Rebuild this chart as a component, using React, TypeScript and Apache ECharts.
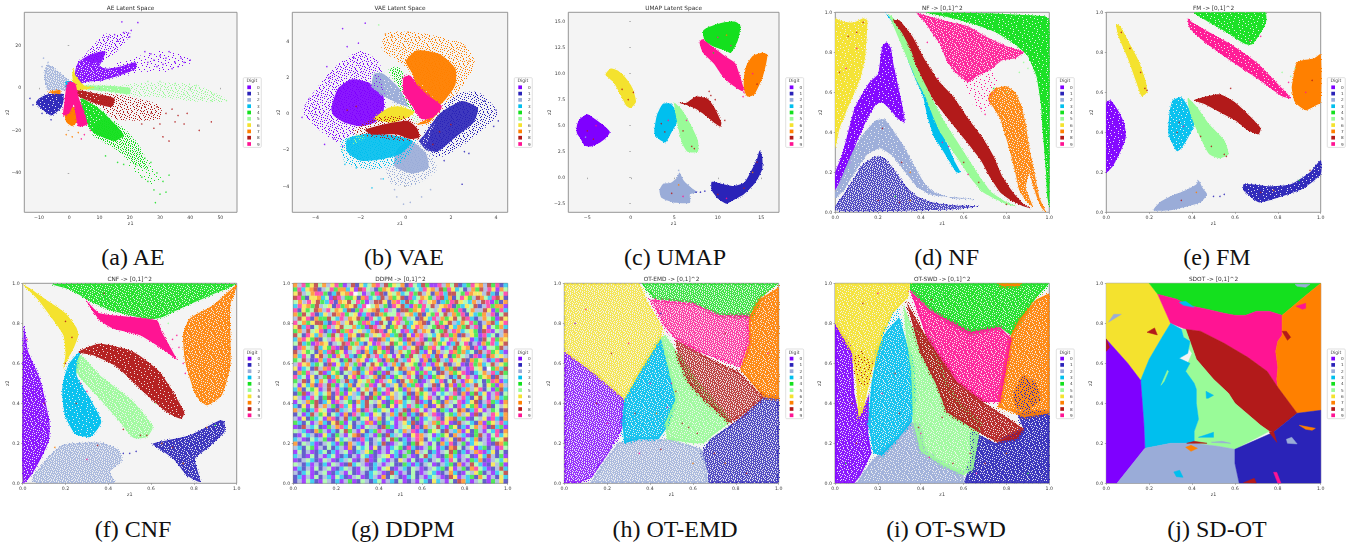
import React, { useEffect, useRef } from "react";
import * as echarts from "echarts";

type P = [number, number];
type Shape = [number, number, P[]]; // digit, density class (0 sparse .. 6 solid), outline in data units
type Pt = [number, number, number]; // x, y, digit

const digits = ["0", "1", "2", "3", "4", "5", "6", "7", "8", "9"];
const palette = ["#7f00ff", "#2a23b8", "#9aacd8", "#00bfee", "#14e01e", "#99fb98", "#f4e22e", "#ff8000", "#b21a1a", "#ff1493"];
const unitTicks = [0, 0.2, 0.4, 0.6, 0.8, 1];

const aeShapes: Shape[] = [
  [0, 4, [[1.5, 2], [2, 8], [3, 12], [6, 15], [10, 17], [12, 17], [11, 13], [10, 10], [13, 9], [17, 10], [22, 12], [22, 9], [17, 6], [11, 3.5], [6, 3], [3, 1.5]]],
  [0, 1, [[5, 14], [9, 21], [12, 25], [15, 24], [19, 26], [20, 25], [16, 18], [12, 14], [8, 12]]],
  [0, 0, [[14, 10], [22, 14], [30, 17], [40, 14], [40, 12], [32, 8], [24, 8], [18, 6]]],
  [1, 5, [[-10, -5], [-7, -3], [-2, -3], [-2, -7], [-3, -10], [-6, -13], [-9, -10], [-11, -7]]],
  [2, 3, [[-8, 9], [-7, 11], [-4, 8], [0, 3], [-1, -1], [-4, -1], [-7, -1], [-8, 3]]],
  [3, 5, [[-1, 3], [1, 3], [1, 0], [-1, 0]]],
  [4, 5, [[4, -5], [10, -10], [18, -22], [15, -25], [8, -21], [5, -14]]],
  [4, 2, [[12, -14], [20, -22], [24, -30], [26, -38], [22, -36], [15, -28], [8, -22]]],
  [4, 0, [[20, -26], [30, -42], [27, -45], [18, -33]]],
  [5, 5, [[4, 1], [12, 1], [20, 0], [20, -3], [12, -1.5], [5, -0.5]]],
  [5, 1, [[18, 1], [30, 2], [42, 1], [52, -6], [42, -6], [30, -4], [18, -3]]],
  [6, 6, [[1, 6], [1.5, 9], [2, 6], [5, 1], [8, 0], [2, -1]]],
  [7, 6, [[-1.5, -10], [3, -9], [3, -15], [1, -18], [-1, -16]]],
  [7, 5, [[-7, -2], [-3, -1], [-3, -3]]],
  [8, 5, [[2, -1], [10, -3], [15, -5], [14, -9], [8, -7], [3, -4]]],
  [8, 1, [[12, -3], [24, -6], [30, -9], [30, -14], [22, -15], [15, -14], [10, -7]]],
  [9, 6, [[-1, 0], [0, 3], [2, 2], [3, -4], [6, -17], [3, -18], [1.5, -8], [0, -12], [-2, -13], [-1.5, -6]]],
];
const aeScatter: Pt[] = [
  [17.4, 31, 0], [22.7, 30.7, 0], [19.6, 25.7, 0], [20.5, 27, 0], [18, 26, 0], [15, 25, 0], [13, 24, 0], [16, 22, 0], [20, 24, 0],
  [28, 13, 0], [30, 15, 0], [25, 17, 0], [27, 16, 0], [32, 14, 0], [33, 17, 0], [35, 12, 0], [37, 14, 0], [40, 13, 0], [38, 12, 0], [34, 9, 0], [31, 11, 0], [29, 10, 0], [26, 12, 0], [36, 10, 0],
  [45, -2, 5], [48, -3, 5], [52, -6, 5], [50, -5, 5], [44, -5, 5], [40, -1, 5], [35, 2, 5], [30, 3, 5], [26, 3, 5], [38, -3, 5], [47, -6, 5], [42, 1, 5],
  [47, -16, 8], [43, -20, 8], [35, -16, 8], [38, -17, 8], [36, -13, 8], [39, -12, 8], [34, -10, 8], [32, -12, 8], [30, -17, 8], [31, -23, 8], [33, -25, 8], [28, -19, 8], [27, -12, 8], [25, -9, 8], [29, -9, 8], [24, -17, 8],
  [30, -50, 4], [28, -48, 4], [32, -49, 4], [28.5, -54, 4], [33, -41, 4], [31, -44, 4], [26, -44, 4], [24, -42, 4], [29, -40, 4], [27, -35, 4], [25, -33, 4], [22, -36, 4], [18, -36, 4], [16, -35, 4], [12, -32, 4],
  [-8.5, 14, 2], [-7, 12, 2], [-9, 10, 2], [-13, -5, 1], [-12, -8, 1], [-6, -15, 1], [-9, -12, 1], [1, -23, 7], [-1, -22, 7], [3, -21, 7], [4, -24, 9], [5, -22, 9], [7, -20, 9],
];

const vaeShapes: Shape[] = [
  [0, 1, [[-4.5, 0.2], [-3.2, 2.4], [-2, 3.4], [-1.2, 2.7], [-1, 0.2], [-1.8, -1.2], [-3, -1.5], [-4, -0.6]]],
  [0, 4, [[-3.3, 0.3], [-3, 1.4], [-2.4, 1.9], [-1.6, 1.7], [-1, 1], [-1, 0], [-1.4, -0.5], [-2, -0.7], [-2.7, -0.5], [-3.2, -0.1]]],
  [1, 1, [[0.9, -2.1], [2, 0.9], [3.2, 1.1], [4, 0], [2.8, -1.4], [1.6, -2.3]]],
  [1, 4, [[0.8, -1.2], [1.5, 0], [2.5, 0.7], [3.2, 0.3], [3, -0.5], [2.2, -1.3], [1.4, -2.1], [0.9, -2], [0.6, -1.5]]],
  [2, 5, [[-1.4, 2.2], [-1, 2.2], [-0.3, 1.4], [0.1, 0.4], [-0.4, 0.6], [-1, 1], [-1.5, 1.5]]],
  [2, 1, [[-0.8, -2.8], [-0.6, -3.8], [0.3, -3.9], [1.3, -3.1], [1, -2], [0.2, -1.6]]],
  [2, 4, [[-0.4, -2], [0.2, -1.5], [0.9, -2.2], [1, -3], [0.3, -3.3], [-0.5, -2.9]]],
  [3, 1, [[-2.8, -1.5], [-0.5, -1], [0.4, -1.5], [-0.2, -2.6], [-1.4, -3], [-2.6, -2.7]]],
  [3, 4, [[-2.6, -1.4], [-1.7, -1.1], [-0.5, -1.2], [0.3, -1.5], [-0.2, -2.2], [-1, -2.5], [-2, -2.6], [-2.6, -2.1]]],
  [4, 2, [[-0.7, 2.4], [-0.3, 2.5], [0.1, 1.5], [0.6, 0.6], [0.5, -0.1], [0.2, 0.4], [-0.2, 1.3]]],
  [5, 1, [[-2, -0.8], [-1, -0.1], [0.3, 0.2], [0.5, -0.4], [-1, -0.7], [-2.3, -1.6]]],
  [6, 6, [[-1.4, -0.3], [-0.8, 0.3], [-0.3, 0.4], [0.4, 0.1], [0.1, -0.2], [-0.6, -0.5]]],
  [7, 1, [[-1, 3.6], [-0.8, 4.4], [0.5, 4.4], [2.5, 3.8], [3, 2.8], [2.3, 1.3], [1.6, 0.6], [0.2, 2.5]]],
  [7, 5, [[0.6, 0.9], [0.3, 2.2], [0, 2.9], [0.5, 3.5], [1.5, 3.3], [2.2, 2.5], [2.2, 1.6], [1.7, 0.7], [1.2, 0.2], [0.8, 0.4]]],
  [7, 5, [[0.5, -0.6], [1.1, -0.2], [1.6, 0.3], [1, -0.5]]],
  [8, 1, [[-2.3, -1], [-1.3, -0.3], [0.2, -0.3], [0.3, -1.4], [-1, -1.3]]],
  [8, 6, [[-1.8, -0.9], [-1, -0.6], [0.1, -0.4], [0.5, -0.8], [0.6, -1.3], [0.2, -1.4], [-0.4, -1.15], [-1.5, -1.15]]],
  [9, 6, [[-0.1, 2], [-0.1, 1.2], [0.3, 0.4], [0.7, -0.3], [1.2, -0.2], [1.6, 0.4], [1, 1], [0.5, 1.6], [0.2, 2.1]]],
];
const vaeScatter: Pt[] = [
  [-1.8, 5, 0], [-2.8, 4.7, 0], [-2.6, 3.7, 0], [-2.1, 3.9, 0], [-2.3, 3.1, 0], [-3.5, 2.6, 0], [-4.6, -0.2, 0], [-4.3, 0.8, 0], [-4, 0.3, 0], [-3.9, 1, 0], [-3.4, 2, 0], [-3.6, -1.7, 0], [-3.2, -1.4, 0], [-2.8, -1.8, 0],
  [-0.1, -5, 2], [-0.4, -4.6, 2], [0.2, -4.9, 2], [0.7, -4.6, 2], [1.1, -4.2, 2], [-0.5, -4.2, 2], [-1.1, -3.6, 2], [-1.5, -4.1, 3], [-1, -3.6, 3], [-2.2, -3, 3], [-2.7, -2.8, 3],
  [-0.9, 4.4, 7], [-0.6, 4.3, 7], [0.1, 4.5, 7], [0.6, 4.2, 7], [2.6, 3.7, 7], [2.8, 2.9, 7], [2.5, -3.9, 1], [4, 0.2, 1], [4.1, -0.4, 1], [3.9, -0.7, 1], [3.5, 0.7, 1], [2.8, -2.2, 1], [2.6, -2.1, 1], [1.7, -2.6, 1],
  [-2.5, -1.4, 5], [-2.8, -2, 5], [-1.2, 4.9, 5], [1.5, -1, 8], [2, -0.6, 8], [1.2, -1.7, 8], [-2.2, 0.4, 8], [-2.6, 0.2, 8],
];

const umapShapes: Shape[] = [
  [0, 6, [[-6.2, 5], [-5.9, 5.6], [-5, 6.1], [-4.2, 5.7], [-3.4, 5.2], [-2.4, 4.4], [-2.9, 3.8], [-3.7, 3.3], [-4.6, 3], [-5.3, 3.1], [-5.8, 3.8], [-6.2, 4.3]]],
  [1, 6, [[9.3, -0.4], [10.5, -0.6], [11.8, -0.8], [13, -0.5], [13.8, 0.6], [14.5, 1.8], [14.8, 2.6], [15.1, 2], [15.1, 0.8], [14.3, -0.5], [13, -1.6], [11.7, -2.2], [11, -2.5], [10, -2], [9.3, -1.2]]],
  [2, 6, [[3.3, -1.2], [3.7, -0.6], [4.6, -0.5], [5.3, 0], [5.6, 0.5], [6.1, -0.3], [7, -1], [7.6, -1.4], [6.8, -1.6], [6.8, -2.4], [5, -2.4], [4.2, -2.2], [3.5, -1.9]]],
  [3, 6, [[2.7, 4.5], [3, 6], [3.7, 7.1], [4.6, 7.1], [5.3, 6.2], [5.3, 5.3], [4.7, 4.4], [4, 3.4], [3.4, 3.6], [2.8, 4.1]]],
  [4, 6, [[8.3, 14.1], [9, 14.5], [10.5, 14.9], [12, 15], [12.6, 14.6], [12.3, 13.2], [11.5, 12], [10.9, 12.2], [9.5, 12.6], [8.5, 13.2]]],
  [5, 6, [[5, 7.2], [5.8, 6.6], [6.7, 5.4], [7.7, 3.6], [7.7, 2.5], [6.5, 2.5], [5.9, 3.3], [5.5, 4.6], [5.2, 5.9]]],
  [6, 6, [[-2.9, 9.9], [-2.3, 10.5], [-1.5, 10.3], [-0.6, 9.6], [0.2, 8.6], [0.6, 7.3], [0, 6.7], [-0.5, 6.9], [-1.2, 8], [-2, 9.2]]],
  [7, 6, [[13.4, 7.8], [14.2, 8], [15.2, 9.8], [15.7, 11.8], [15.1, 12], [14, 11.7], [13.3, 10.8], [13, 9.6], [13, 8.5]]],
  [8, 6, [[5.5, 7.2], [6.4, 7.2], [7.5, 7.8], [8.8, 7.6], [9.7, 6.6], [10.4, 5.3], [10.3, 4.9], [9.7, 5.2], [8.7, 5.9], [7.5, 6.6], [6.3, 7]]],
  [9, 6, [[7.9, 13], [8.2, 13.3], [9.2, 12.7], [10.8, 11.7], [12, 11], [13, 8.5], [12.8, 8.3], [11.5, 9], [10.5, 9.8], [9.5, 11], [8.3, 12]]],
];
const umapScatter: Pt[] = [
  [-5, 4.5, 8], [-4.3, 3.7, 8], [-4, 5, 9], [-5.2, 3.9, 2], [-1, 8.5, 8], [-0.3, 7.5, 8], [0.3, 8.2, 8], [3.5, 5.2, 8], [4.3, 5.5, 9], [3.9, 4.4, 8], [6, 4.5, 8], [7, 3, 8], [7.3, 2.8, 8], [6.4, 5.5, 9],
  [10, 13.5, 9], [11, 13.7, 7], [11.5, 12.7, 9], [9.5, 12, 4], [14, 10, 9], [14.5, 9, 8], [4.7, -1.5, 8], [6, -1.8, 9], [5.5, -0.7, 7], [10, -1.6, 8], [11, -2, 9], [13, -1, 8], [14, 0.5, 7], [14.5, 1.5, 8],
  [9, 8.3, 8], [9.7, 7.5, 8], [10.8, 5.5, 8], [13, 8.2, 9], [12.9, 7.8, 9], [12.3, 8.6, 9], [9.2, 7.9, 8], [7.5, -1.4, 1], [8, -1.4, 1], [8.5, -1.3, 1], [5.5, 0.7, 2],
];

const nfShapes: Shape[] = [
  [0, 5, [[0, 0.2], [0.03, 0.28], [0.06, 0.4], [0.09, 0.52], [0.12, 0.58], [0.16, 0.65], [0.2, 0.69], [0.21, 0.76], [0.22, 0.83], [0.24, 0.85], [0.26, 0.82], [0.27, 0.75], [0.29, 0.65], [0.31, 0.55], [0.325, 0.46], [0.32, 0.45], [0.29, 0.47], [0.26, 0.51], [0.22, 0.55], [0.19, 0.54], [0.15, 0.47], [0.1, 0.35], [0.06, 0.23], [0.02, 0.15], [0, 0.11]]],
  [1, 3, [[0, 0.01], [0, 0.03], [0.04, 0.09], [0.08, 0.16], [0.13, 0.24], [0.19, 0.28], [0.23, 0.27], [0.27, 0.22], [0.33, 0.13], [0.38, 0.08], [0.45, 0.05], [0.55, 0.035], [0.67, 0.03], [0.55, 0.015], [0.4, 0.01], [0.2, 0.005], [0.05, 0.005]]],
  [2, 5, [[0, 0.07], [0, 0.1], [0.04, 0.2], [0.08, 0.3], [0.13, 0.39], [0.19, 0.46], [0.23, 0.465], [0.27, 0.41], [0.32, 0.33], [0.37, 0.23], [0.42, 0.14], [0.46, 0.1], [0.55, 0.07], [0.65, 0.065], [0.5, 0.08], [0.44, 0.09], [0.38, 0.13], [0.32, 0.21], [0.27, 0.28], [0.21, 0.32], [0.15, 0.29], [0.09, 0.2], [0.04, 0.11]]],
  [3, 6, [[0.235, 0.995], [0.28, 0.95], [0.33, 0.85], [0.37, 0.75], [0.41, 0.66], [0.44, 0.55], [0.47, 0.46], [0.52, 0.35], [0.56, 0.25], [0.585, 0.2], [0.565, 0.2], [0.53, 0.26], [0.49, 0.33], [0.46, 0.38], [0.43, 0.48], [0.41, 0.58], [0.38, 0.65], [0.35, 0.73], [0.32, 0.82], [0.29, 0.9], [0.26, 0.96]]],
  [4, 5, [[0.42, 1], [0.7, 0.995], [0.98, 0.98], [1, 0.96], [1, 0.03], [0.99, 0.08], [0.985, 0.2], [0.97, 0.4], [0.96, 0.55], [0.94, 0.68], [0.9, 0.78], [0.84, 0.84], [0.75, 0.9], [0.65, 0.94], [0.55, 0.97]]],
  [5, 6, [[0.25, 0.99], [0.3, 0.94], [0.34, 0.85], [0.39, 0.74], [0.44, 0.6], [0.5, 0.47], [0.56, 0.37], [0.62, 0.27], [0.68, 0.17], [0.73, 0.1], [0.8, 0.05], [0.845, 0.03], [0.8, 0.04], [0.74, 0.07], [0.69, 0.1], [0.64, 0.16], [0.59, 0.24], [0.54, 0.32], [0.49, 0.4], [0.46, 0.47], [0.42, 0.58], [0.38, 0.66], [0.34, 0.76]]],
  [6, 5, [[0, 0.32], [0, 0.97], [0.02, 0.96], [0.05, 0.95], [0.09, 0.95], [0.13, 0.97], [0.15, 0.96], [0.14, 0.78], [0.12, 0.68], [0.09, 0.6], [0.05, 0.5], [0.02, 0.42]]],
  [7, 4, [[0.715, 0.56], [0.72, 0.59], [0.75, 0.62], [0.8, 0.63], [0.84, 0.6], [0.87, 0.53], [0.89, 0.44], [0.905, 0.33], [0.93, 0.2], [0.955, 0.07], [0.985, 0], [0.965, 0.02], [0.94, 0.08], [0.92, 0.15], [0.905, 0.2], [0.89, 0.12], [0.925, 0.025], [0.89, 0.06], [0.86, 0.11], [0.845, 0.18], [0.83, 0.25], [0.81, 0.33], [0.79, 0.4], [0.77, 0.47], [0.735, 0.53]]],
  [8, 6, [[0.3, 0.96], [0.36, 0.88], [0.42, 0.76], [0.48, 0.66], [0.55, 0.58], [0.62, 0.47], [0.69, 0.37], [0.74, 0.28], [0.78, 0.18], [0.83, 0.1], [0.88, 0.04], [0.91, 0.02], [0.88, 0.03], [0.82, 0.06], [0.77, 0.1], [0.72, 0.18], [0.68, 0.26], [0.63, 0.33], [0.57, 0.41], [0.51, 0.49], [0.46, 0.56], [0.42, 0.64], [0.38, 0.73], [0.35, 0.82], [0.31, 0.9], [0.27, 0.96]]],
  [9, 4, [[0.38, 0.995], [0.5, 0.96], [0.62, 0.93], [0.7, 0.88], [0.8, 0.83], [0.88, 0.8], [0.84, 0.77], [0.78, 0.76], [0.72, 0.71], [0.66, 0.68], [0.62, 0.65], [0.56, 0.7], [0.52, 0.76], [0.49, 0.84], [0.45, 0.9], [0.42, 0.95]]],
  [9, 0, [[0.6, 0.68], [0.72, 0.7], [0.76, 0.68], [0.7, 0.5], [0.64, 0.55]]],
];
const nfScatter: Pt[] = [
  [0.06, 0.88, 8], [0.1, 0.9, 8], [0.13, 0.95, 8], [0.05, 0.72, 9], [0.02, 0.7, 8], [0.1, 0.82, 9], [0.22, 0.42, 8], [0.31, 0.25, 8], [0.35, 0.2, 7], [0.2, 0.06, 8], [0.28, 0.08, 4], [0.3, 0.05, 8], [0.35, 0.06, 7],
  [0.5, 0.35, 9], [0.53, 0.33, 9], [0.6, 0.25, 8], [0.67, 0.15, 8], [0.62, 0.19, 9], [0.43, 0.85, 9], [0.48, 0.67, 9], [0.68, 0.52, 9], [0.7, 0.49, 9], [0.74, 0.62, 4], [0.8, 0.6, 5], [0.8, 0.04, 8], [0.88, 0.75, 5], [0.9, 0.72, 5], [0.86, 0.7, 5],
];

const fmShapes: Shape[] = [
  [0, 5, [[0, 0.2], [0.03, 0.23], [0.06, 0.29], [0.09, 0.37], [0.085, 0.44], [0.06, 0.5], [0.02, 0.56], [0, 0.55]]],
  [1, 5, [[0.64, 0.14], [0.68, 0.14], [0.76, 0.13], [0.86, 0.14], [0.95, 0.2], [1, 0.26], [1, 0.19], [0.92, 0.12], [0.85, 0.09], [0.76, 0.06], [0.71, 0.05], [0.66, 0.09], [0.64, 0.11]]],
  [2, 6, [[0.22, 0.01], [0.25, 0.05], [0.3, 0.08], [0.37, 0.11], [0.42, 0.14], [0.43, 0.16], [0.45, 0.12], [0.47, 0.09], [0.44, 0.05], [0.38, 0.03], [0.3, 0.01]]],
  [3, 5, [[0.295, 0.5], [0.31, 0.56], [0.35, 0.575], [0.385, 0.52], [0.41, 0.44], [0.38, 0.37], [0.35, 0.32], [0.33, 0.305], [0.31, 0.34], [0.29, 0.39]]],
  [4, 5, [[0.41, 1], [0.74, 1], [0.745, 0.95], [0.71, 0.88], [0.68, 0.84], [0.65, 0.84], [0.56, 0.9], [0.48, 0.95]]],
  [5, 6, [[0.38, 0.57], [0.42, 0.53], [0.48, 0.44], [0.55, 0.36], [0.57, 0.29], [0.53, 0.27], [0.48, 0.29], [0.44, 0.37], [0.41, 0.44], [0.385, 0.52]]],
  [6, 6, [[0.045, 0.94], [0.065, 0.93], [0.11, 0.84], [0.15, 0.76], [0.185, 0.65], [0.19, 0.6], [0.165, 0.58], [0.14, 0.65], [0.1, 0.77], [0.06, 0.87]]],
  [7, 6, [[0.87, 0.66], [0.89, 0.75], [0.97, 0.77], [1, 0.79], [1, 0.55], [0.97, 0.53], [0.93, 0.51], [0.88, 0.55], [0.865, 0.62]]],
  [8, 6, [[0.41, 0.56], [0.47, 0.58], [0.53, 0.59], [0.6, 0.55], [0.67, 0.48], [0.72, 0.42], [0.71, 0.39], [0.66, 0.41], [0.6, 0.46], [0.53, 0.5], [0.46, 0.54]]],
  [9, 5, [[0.38, 0.97], [0.4, 0.95], [0.48, 0.9], [0.58, 0.84], [0.7, 0.75], [0.82, 0.62], [0.86, 0.57], [0.82, 0.58], [0.73, 0.65], [0.66, 0.7], [0.55, 0.78], [0.46, 0.85], [0.39, 0.92]]],
];
const fmScatter: Pt[] = [
  [0.07, 0.9, 8], [0.11, 0.82, 8], [0.16, 0.7, 8], [0.18, 0.62, 8], [0.19, 0.61, 8], [0.33, 0.4, 8], [0.36, 0.43, 9], [0.34, 0.45, 8], [0.44, 0.38, 8], [0.49, 0.33, 8], [0.55, 0.29, 8], [0.56, 0.28, 8], [0.42, 0.1, 7], [0.35, 0.06, 8],
  [0.72, 0.1, 8], [0.78, 0.11, 7], [0.9, 0.16, 4], [0.95, 0.21, 8], [0.86, 0.68, 5], [0.88, 0.72, 5], [0.85, 0.65, 9], [0.82, 0.7, 5], [0.93, 0.6, 9], [0.96, 0.66, 8], [0.5, 0.08, 1], [0.53, 0.08, 1], [0.55, 0.09, 1], [0.58, 0.62, 8], [0.67, 0.86, 9], [0.72, 0.88, 9],
];

const cnfShapes: Shape[] = [
  [0, 4, [[0.006, 0.782], [0.026, 0.657], [0.08, 0.523], [0.125, 0.307], [0.12, 0.207], [0.05, 0.057], [0.003, 0.003], [0, 0.4]]],
  [1, 4, [[0.607, 0.198], [0.782, 0.24], [0.922, 0.315], [0.942, 0.307], [0.942, 0.257], [0.86, 0.173], [0.805, 0.123], [0.83, 0.007], [0.767, 0.04], [0.704, 0.123], [0.626, 0.182]]],
  [2, 3, [[0.042, 0.015], [0.128, 0.14], [0.19, 0.193], [0.36, 0.203], [0.44, 0.173], [0.463, 0.115], [0.408, 0.057], [0.43, 0], [0.1, 0]]],
  [3, 5, [[0.268, 0.657], [0.213, 0.59], [0.185, 0.473], [0.198, 0.34], [0.245, 0.248], [0.315, 0.232], [0.367, 0.307], [0.315, 0.423], [0.252, 0.54]]],
  [4, 4, [[0.14, 0.995], [0.99, 0.995], [0.9, 0.95], [0.75, 0.88], [0.65, 0.83], [0.6, 0.82], [0.5, 0.84], [0.4, 0.87], [0.3, 0.92], [0.22, 0.97]]],
  [5, 4, [[0.268, 0.64], [0.36, 0.54], [0.517, 0.407], [0.607, 0.282], [0.58, 0.232], [0.517, 0.228], [0.455, 0.307], [0.346, 0.44], [0.252, 0.557]]],
  [6, 6, [[0, 0.995], [0.04, 0.97], [0.12, 0.91], [0.2, 0.85], [0.25, 0.78], [0.26, 0.74], [0.24, 0.68], [0.2, 0.6], [0.19, 0.57], [0.2, 0.65], [0.19, 0.74], [0.14, 0.82], [0.07, 0.92]]],
  [7, 4, [[1, 0.99], [0.97, 0.89], [0.97, 0.59], [0.93, 0.44], [0.86, 0.39], [0.81, 0.44], [0.76, 0.607], [0.75, 0.74], [0.78, 0.823], [0.89, 0.89]]],
  [8, 5, [[0.26, 0.657], [0.36, 0.698], [0.517, 0.657], [0.64, 0.557], [0.755, 0.357], [0.74, 0.323], [0.673, 0.357], [0.565, 0.457], [0.44, 0.582], [0.33, 0.64]]],
  [9, 6, [[0.296, 0.915], [0.36, 0.85], [0.626, 0.815], [0.65, 0.757], [0.72, 0.62], [0.673, 0.657], [0.548, 0.74], [0.424, 0.773], [0.36, 0.815]]],
];
const cnfScatter: Pt[] = [
  [0.2, 0.81, 8], [0.23, 0.73, 8], [0.2, 0.6, 8], [0.75, 0.6, 9], [0.73, 0.68, 9], [0.7, 0.72, 9], [0.68, 0.8, 5], [0.72, 0.74, 9], [0.76, 0.55, 9], [0.3, 0.46, 9], [0.25, 0.4, 8], [0.27, 0.5, 9], [0.47, 0.27, 8], [0.58, 0.24, 8], [0.55, 0.24, 8],
  [0.5, 0.15, 1], [0.53, 0.16, 1], [0.47, 0.15, 1], [0.65, 0.2, 7], [0.7, 0.18, 8], [0.75, 0.1, 7], [0.86, 0.28, 7], [0.9, 0.29, 4], [0.15, 0.18, 7], [0.3, 0.12, 9], [0.35, 0.19, 8], [0.02, 0.72, 9], [0.1, 0.4, 8], [0.38, 0.95, 8], [0.62, 0.4, 5],
];

const emdShapes: Shape[] = [
  [0, 3, [[0, 0.66], [0.15, 0.54], [0.28, 0.42], [0.27, 0.27], [0.2, 0.14], [0.13, 0.03], [0.07, 0], [0, 0]]],
  [1, 3, [[0.67, 0], [1, 0], [1, 0.43], [0.93, 0.43], [0.8, 0.31], [0.68, 0.22], [0.64, 0.15], [0.67, 0.05]]],
  [2, 3, [[0.12, 0], [0.67, 0], [0.66, 0.1], [0.64, 0.17], [0.5, 0.22], [0.3, 0.22], [0.25, 0.2], [0.2, 0.13]]],
  [3, 4, [[0.28, 0.42], [0.36, 0.57], [0.45, 0.73], [0.48, 0.6], [0.52, 0.42], [0.48, 0.28], [0.44, 0.22], [0.35, 0.22], [0.28, 0.2], [0.27, 0.3]]],
  [4, 3, [[0.36, 1], [1, 1], [0.92, 0.93], [0.87, 0.83], [0.72, 0.84], [0.6, 0.9], [0.42, 0.92]]],
  [5, 4, [[0.45, 0.73], [0.47, 0.74], [0.55, 0.62], [0.61, 0.52], [0.69, 0.42], [0.78, 0.31], [0.68, 0.23], [0.65, 0.2], [0.6, 0.2], [0.48, 0.22], [0.47, 0.3], [0.52, 0.42], [0.48, 0.6]]],
  [6, 3, [[0, 1], [0.35, 1], [0.39, 0.9], [0.46, 0.78], [0.45, 0.72], [0.36, 0.57], [0.28, 0.42], [0.15, 0.54], [0, 0.66]]],
  [7, 4, [[1, 0.98], [0.91, 0.92], [0.86, 0.83], [0.86, 0.7], [0.82, 0.57], [0.93, 0.43], [1, 0.42]]],
  [8, 3, [[0.52, 0.72], [0.62, 0.66], [0.72, 0.6], [0.81, 0.56], [0.93, 0.43], [0.82, 0.33], [0.77, 0.3], [0.65, 0.42], [0.58, 0.5], [0.53, 0.62]]],
  [9, 3, [[0.4, 0.92], [0.6, 0.9], [0.72, 0.84], [0.86, 0.84], [0.86, 0.7], [0.82, 0.58], [0.72, 0.62], [0.62, 0.66], [0.52, 0.72], [0.47, 0.78]]],
];
const emdScatter: Pt[] = [
  [0.05, 0.8, 0], [0.1, 0.87, 9], [0.22, 0.65, 8], [0.3, 0.7, 9], [0.4, 0.5, 9], [0.5, 0.5, 9], [0.52, 0.46, 8], [0.48, 0.38, 9], [0.55, 0.3, 8], [0.58, 0.28, 8], [0.62, 0.25, 8], [0.7, 0.15, 8], [0.75, 0.1, 7], [0.85, 0.05, 8], [0.6, 0.1, 7],
  [0.35, 0.15, 9], [0.45, 0.17, 8], [0.15, 0.4, 8], [0.2, 0.3, 9], [0.33, 0.35, 8], [0.43, 0.35, 7], [0.47, 0.65, 5], [0.45, 0.85, 1], [0.75, 0.75, 8], [0.95, 0.65, 9],
];

const swdShapes: Shape[] = [
  [0, 4, [[0, 0.8], [0.08, 0.66], [0.09, 0.45], [0.115, 0.33], [0.16, 0.45], [0.155, 0.25], [0.17, 0.15], [0.12, 0.04], [0.09, 0], [0, 0]]],
  [1, 4, [[0.6, 0], [1, 0], [1, 0.36], [0.85, 0.35], [0.88, 0.27], [0.75, 0.2], [0.64, 0.26], [0.64, 0.13], [0.62, 0.06]]],
  [2, 4, [[0.1, 0], [0.6, 0], [0.6, 0.05], [0.5, 0.1], [0.42, 0.16], [0.39, 0.29], [0.35, 0.31], [0.3, 0.23], [0.2, 0.14], [0.17, 0.11]]],
  [3, 4, [[0.3, 0.83], [0.24, 0.76], [0.2, 0.68], [0.17, 0.5], [0.155, 0.3], [0.18, 0.15], [0.22, 0.14], [0.3, 0.23], [0.36, 0.31], [0.37, 0.45], [0.36, 0.6], [0.33, 0.72]]],
  [4, 4, [[0.35, 1], [1, 1], [0.94, 0.93], [0.82, 0.74], [0.77, 0.78], [0.63, 0.75], [0.444, 0.865], [0.35, 0.965]]],
  [5, 4, [[0.32, 0.89], [0.36, 0.78], [0.45, 0.72], [0.52, 0.5], [0.58, 0.4], [0.68, 0.3], [0.645, 0.07], [0.6, 0.04], [0.5, 0.09], [0.4, 0.16], [0.365, 0.3], [0.355, 0.57], [0.33, 0.75]]],
  [6, 4, [[0, 1], [0.35, 1], [0.34, 0.93], [0.27, 0.85], [0.22, 0.73], [0.17, 0.55], [0.13, 0.36], [0.11, 0.33], [0.1, 0.5], [0.08, 0.65], [0, 0.8]]],
  [7, 4, [[1, 0.95], [0.94, 0.92], [0.86, 0.82], [0.82, 0.74], [0.78, 0.5], [0.76, 0.38], [0.82, 0.36], [0.88, 0.33], [1, 0.35]]],
  [7, 5, [[0.76, 1], [0.87, 1], [0.86, 0.985], [0.78, 0.985]]],
  [9, 4, [[0.35, 0.965], [0.444, 0.865], [0.63, 0.757], [0.77, 0.782], [0.824, 0.723], [0.77, 0.407], [0.69, 0.407], [0.57, 0.507], [0.43, 0.723]]],
  [8, 4, [[0.334, 0.907], [0.43, 0.723], [0.57, 0.507], [0.69, 0.407], [0.88, 0.273], [0.848, 0.223], [0.754, 0.207], [0.645, 0.273], [0.52, 0.357], [0.474, 0.49], [0.397, 0.657]]],
  [1, 1, [[0.84, 0.45], [0.88, 0.53], [0.93, 0.5], [0.95, 0.42], [0.9, 0.37], [0.85, 0.38]]],
  [8, 0, [[0.08, 0.62], [0.12, 0.66], [0.17, 0.6], [0.15, 0.5], [0.11, 0.5]]],
  [3, 1, [[0.24, 0.76], [0.3, 0.87], [0.28, 0.85], [0.22, 0.73]]],
];
const swdScatter: Pt[] = [
  [0.2, 0.95, 9], [0.13, 0.9, 8], [0.08, 0.4, 8], [0.05, 0.1, 4], [0.1, 0.2, 8], [0.22, 0.45, 9], [0.28, 0.55, 8], [0.3, 0.35, 8], [0.39, 0.28, 8], [0.4, 0.25, 9], [0.44, 0.13, 9], [0.55, 0.1, 8], [0.66, 0.05, 9], [0.7, 0.1, 8], [0.8, 0.15, 7], [0.9, 0.05, 4],
  [0.45, 0.92, 8], [0.5, 0.95, 5], [0.52, 0.4, 8], [0.5, 0.33, 8], [0.63, 0.15, 8],
];

const sdotShapes: Shape[] = [
  [6, 6, [[0, 1], [0.2, 1], [0.24, 0.945], [0.3, 0.8], [0.26, 0.73], [0.2, 0.62], [0.16, 0.515], [0.1, 0.6], [0, 0.72]]],
  [4, 6, [[0.2, 1], [1, 1], [0.92, 0.93], [0.82, 0.84], [0.76, 0.86], [0.7, 0.86], [0.65, 0.84], [0.6, 0.84], [0.55, 0.85], [0.47, 0.87], [0.38, 0.89], [0.33, 0.92], [0.24, 0.945]]],
  [9, 6, [[0.24, 0.945], [0.33, 0.92], [0.38, 0.89], [0.47, 0.87], [0.55, 0.85], [0.6, 0.84], [0.65, 0.84], [0.7, 0.86], [0.76, 0.86], [0.82, 0.84], [0.82, 0.74], [0.8, 0.71], [0.79, 0.66], [0.8, 0.58], [0.795, 0.52], [0.8, 0.48], [0.75, 0.56], [0.66, 0.63], [0.55, 0.7], [0.44, 0.76], [0.37, 0.77], [0.3, 0.8]]],
  [7, 6, [[1, 1], [0.92, 0.93], [0.82, 0.84], [0.82, 0.74], [0.8, 0.71], [0.79, 0.66], [0.8, 0.58], [0.795, 0.52], [0.8, 0.48], [0.89, 0.35], [1, 0.365]]],
  [8, 6, [[0.37, 0.77], [0.44, 0.76], [0.55, 0.7], [0.66, 0.63], [0.75, 0.56], [0.8, 0.48], [0.89, 0.35], [0.78, 0.255], [0.76, 0.26], [0.72, 0.29], [0.6, 0.4], [0.57, 0.45], [0.5, 0.52], [0.42, 0.62]]],
  [5, 6, [[0.35, 0.77], [0.37, 0.77], [0.42, 0.62], [0.5, 0.52], [0.57, 0.45], [0.6, 0.4], [0.72, 0.29], [0.76, 0.26], [0.6, 0.17], [0.52, 0.185], [0.41, 0.2], [0.41, 0.26], [0.43, 0.32], [0.42, 0.4], [0.42, 0.47], [0.41, 0.5], [0.37, 0.56], [0.38, 0.6], [0.4, 0.65], [0.38, 0.68], [0.39, 0.71], [0.36, 0.73]]],
  [3, 6, [[0.3, 0.8], [0.35, 0.77], [0.36, 0.73], [0.39, 0.71], [0.38, 0.65], [0.34, 0.625], [0.39, 0.6], [0.37, 0.56], [0.41, 0.5], [0.42, 0.47], [0.42, 0.4], [0.43, 0.32], [0.41, 0.26], [0.41, 0.2], [0.3, 0.2], [0.18, 0.175], [0.175, 0.3], [0.16, 0.515], [0.2, 0.62], [0.26, 0.73]]],
  [0, 6, [[0, 0.72], [0.1, 0.6], [0.16, 0.515], [0.175, 0.3], [0.18, 0.175], [0.05, 0], [0, 0]]],
  [2, 6, [[0.05, 0], [0.62, 0], [0.61, 0.05], [0.6, 0.1], [0.6, 0.17], [0.52, 0.185], [0.41, 0.2], [0.3, 0.2], [0.18, 0.175]]],
  [1, 6, [[0.62, 0], [1, 0], [1, 0.365], [0.89, 0.35], [0.78, 0.255], [0.6, 0.17], [0.6, 0.1], [0.61, 0.05]]],
  [2, 6, [[0.01, 0.805], [0.035, 0.845], [0.07, 0.845]]],
  [8, 6, [[0.19, 0.755], [0.225, 0.777], [0.238, 0.742]]],
  [8, 6, [[0, 0.722], [0.015, 0.68], [0, 0.66]]],
  [3, 6, [[0.34, 0.905], [0.37, 0.91], [0.41, 0.88], [0.36, 0.89]]],
  [2, 6, [[0.88, 0.995], [0.95, 0.995], [0.93, 0.98], [0.89, 0.985]]],
  [9, 6, [[0.885, 0.885], [0.93, 0.9], [0.93, 0.875], [0.915, 0.87]]],
  [8, 6, [[0.82, 0.76], [0.845, 0.715], [0.86, 0.73], [0.84, 0.76]]],
  [5, 6, [[0.255, 0.49], [0.285, 0.565], [0.29, 0.56], [0.27, 0.51]]],
  [3, 6, [[0.465, 0.46], [0.5, 0.44], [0.475, 0.425], [0.467, 0.425]]],
  [3, 6, [[0.43, 0.23], [0.5, 0.255], [0.5, 0.23]]],
  [8, 6, [[0.375, 0.2], [0.41, 0.21], [0.47, 0.2]]],
  [2, 6, [[0.49, 0.205], [0.54, 0.21], [0.58, 0.2]]],
  [7, 6, [[0.37, 0.18], [0.395, 0.19], [0.425, 0.175], [0.395, 0.16]]],
  [3, 6, [[0.315, 0.057], [0.342, 0.065], [0.358, 0.03], [0.327, 0.033]]],
  [8, 6, [[0.64, 0.003], [0.69, 0.025], [0.7, 0]]],
  [9, 6, [[0.78, 0.055], [0.795, 0.055], [0.815, 0], [0.8, 0]]],
  [2, 6, [[0.84, 0.22], [0.865, 0.23], [0.89, 0.197], [0.845, 0.2]]],
  [7, 6, [[0.9, 0.29], [0.975, 0.275], [0.96, 0.265], [0.93, 0.27]]],
  [8, 6, [[0.76, 0.255], [0.795, 0.205], [0.78, 0.26]]],
];

// DDPM panel: digit seen in each small cell, top row first ('.' = no point visible)
const ddpmRows = [
  "7294685726940281635792846571953840092758134967284913",
  "49367812594773608952147693184353967284963512748296075",
  "68257994138679.50249816573594826179388549766283159",
  "894166735089244617935382746819357642983715964287539861",
  "572968439176859402886179384592671349865372890417",
  "39674825619476839.57241968307495826791436581294770",
  "9164587295763814956783925188476935260874915722860493",
  "74859136287945603918745592673816495827491634729158",
  "286917448539276841953680794251863927468589312754086",
  "95746883197268549730851692436781594682375941278369",
  "683915749268557340892614758369725489163748291605473",
  "47285691308479562378916450938276154829735641890528",
  "851963724859376184265973481607925368947182640935127",
  "379648152967382465918736540872914863597266031859476",
  "5834097612589473160925846371985274603859120749368",
  "197528364908175296347081539268147950328467193055482",
  "826451739846025917386491275498306172597473518294630",
  "73951682407593146829375061485279380614752190387562",
  "458210739651482760359174823965071482396581746203917",
  "29673451806372491586402738564193075812601947358264",
  "6035182794508631427905316872940561837481209561.4738",
  "174925803641527836914082531760493518274690135729384",
  "935061248375169402571830462951830476213859204671825",
  "42816375094283165740926318574102639158207635149703",
  "506371928405371624905832617349052816170493285164072",
  "371546028293146057283591640726831904058137269150483",
  "148026357194062385174096253817462053529170483602915",
  "620395148160732591840637251408369215074293168502734",
  "052748136092541738526014973528031641725903681294307",
  "316058272419360538217416053924371068251936470381526",
  "724139650183250719243650328179502614305871396024518",
  "150382461530719243065127384031862901543726081529637",
  "206143507912834156027153098214035291678340152609317",
  "431502731684051239704135026381052749601825317046293",
  "018235104279361305221843025619172583046130572918340",
  "523017420315842061349201537290314651823706142053917",
  "105321063142057813204183250169725034617230148205936",
  "320153240163521093125058413029715340261805371204568",
  "715230125304172305123810253148620517391240365201874",
  "231540215132071535061203541931024503178512603412095",
  "051201351302501326410205302417251302584130279036151",
  "321051203501312053012560314201583201473025106382140",
  "012531052013250128015302162051031250395120437102536",
  "521302130520183520132025114303125012341702853016240",
  "031205125013521052130561023152012534160241795301283",
  "213501250132051021352018302151025301273105264120358",
  "130205123053102501320715210351203520186023417502163",
  "120531052130240152135023150120531632051873025104261",
];

// stipple tile seen inside loose clusters: level at which each little spot shows
const tileRows = [
  "1..3.2..3...2.1..3.2...3",
  "..2...3.1.2...3...1..2..",
  ".3..1.....3.2...2.3...1.",
  "2...3.2.1....3.1....2.3.",
  "..1...3...2.3...3.1...2.",
  "3..2.1..3.....2...3.2...",
  ".2....3.2.1.3...1.2...3.",
  "...3.1....3..2.3....1..2",
  "1.2...2.3...1....2.3....",
  "..3.1...3.2...3.1...3.2.",
  "2....3.1...3.2...2.1...3",
  ".1.3...2.3....1.3....2..",
  "3...2.....1.3...2..3.1..",
  "..2.3.1.2...3.1...2...3.",
  "1....3...3.2...3.1..2...",
  ".3.2...1....2.3...3..1.2",
  "...1.3.2.3.1....2...3...",
  "2.3.....2...3.1...3.2.1.",
  "..1.2.3...1..3..2.....3.",
  "3....1.3.2...2.3..1.3..2",
  ".2.3...2...3...1...2....",
  "1...2.3..1.2.3...3.1.3..",
  "..3...1.3....2.1....2..3",
  ".2.1.3...2.3...3.2...1..",
];

const titles = ["AE Latent Space", "VAE Latent Space", "UMAP Latent Space", "NF -> [0,1]^2", "FM -> [0,1]^2", "CNF -> [0,1]^2", "DDPM -> [0,1]^2", "OT-EMD -> [0,1]^2", "OT-SWD -> [0,1]^2", "SDOT -> [0,1]^2"];
const captions = ["(a) AE", "(b) VAE", "(c) UMAP", "(d) NF", "(e) FM", "(f) CNF", "(g) DDPM", "(h) OT-EMD", "(i) OT-SWD", "(j) SD-OT"];
const shapeSets: Shape[][] = [aeShapes, vaeShapes, umapShapes, nfShapes, fmShapes, cnfShapes, [], emdShapes, swdShapes, sdotShapes];
const scatterSets: Pt[][] = [aeScatter, vaeScatter, umapScatter, nfScatter, fmScatter, cnfScatter, [], emdScatter, swdScatter, []];

const xTicks = [[-10, 0, 10, 20, 30, 40, 50], [-4, -2, 0, 2, 4], [-5, 0, 5, 10, 15], unitTicks, unitTicks, unitTicks, unitTicks, unitTicks, unitTicks, unitTicks];
const yTicks = [[-40, -20, 0, 20], [-4, -2, 0, 2, 4], [-2.5, 0, 2.5, 5, 7.5, 10, 12.5, 15], unitTicks, unitTicks, unitTicks, unitTicks, unitTicks, unitTicks, unitTicks];
const xDecimals = [0, 0, 0, 1, 1, 1, 1, 1, 1, 1];
const yDecimals = [0, 0, 1, 1, 1, 1, 1, 1, 1, 1];
const xExtents = [[-14.86, 55.5], [-5.03, 4.52], [-7.18, 17.03], [0, 1], [0, 1], [0, 1], [0, 1], [0, 1], [0, 1], [0, 1]];
const yExtents = [[-58.5, 35.5], [-5.45, 5.6], [-3.33, 15.9], [0, 1], [0, 1], [0, 1], [0, 1], [0, 1], [0, 1], [0, 1]];

// layout in page pixels
const boxes = [
  [24.3, 237, 12.3, 212.3], [292.3, 507.7, 12.3, 212.3], [568.3, 779, 12.3, 212.3], [835.3, 1049.3, 12.3, 212.3], [1106.3, 1320.7, 12.3, 212.3],
  [22.7, 236.7, 283.3, 483.3], [293.3, 507.7, 283.3, 483.3], [564.3, 778.7, 283.3, 483.3], [835, 1049.3, 283.3, 483.3], [1106.3, 1320.7, 283.3, 483.3],
];
const legendLefts = [243.3, 514.3, 785.7, 1056.3, 1327.3, 243.7, 514.3, 785.7, 1056.3, 1327.3];
const yNameGaps = [14.5, 11.5, 16, 12.5, 12.5, 13, 13, 13, 13, 13];
const captionCenters = [133, 404, 675, 946.7, 1217, 133, 403, 675, 946, 1217];
const smoothing = [0.2, 0.2, 0.2, 0.12, 0.2, 0.2, 0, 0, 0, 0];
const fringeWidth = [2, 3, 1.6, 1.8, 1.6, 2.2, 0, 4, 4, 0];

const FONT = "DejaVu Sans";
const tileCache: Record<string, string> = {};
function fillFor(digit: number, density: number): any {
  const color = palette[digit];
  if (density >= 6) return color;
  const key = digit + "_" + density;
  if (!tileCache[key]) {
    const n = tileRows.length;
    const c = document.createElement("canvas");
    c.width = n;
    c.height = n;
    const g = c.getContext("2d")!;
    g.fillStyle = color;
    const holes = density >= 3;
    const level = holes ? 6 - density : density + 1;
    if (holes) {
      g.globalAlpha = density === 3 ? 0.8 : density === 4 ? 0.9 : 0.96;
      g.fillRect(0, 0, n, n);
    }
    tileRows.forEach((row, y) =>
      row.split("").forEach((ch, x) => {
        if (ch === "." || Number(ch) > level) return;
        if (holes) {
          g.clearRect(x, y, 1, 1);
          g.globalAlpha = 0.1;
          g.fillRect(x, y, 1, 1);
          g.globalAlpha = density === 3 ? 0.8 : density === 4 ? 0.9 : 0.96;
        } else g.fillRect(x, y, 1, 1);
      })
    );
    tileCache[key] = c.toDataURL();
  }
  return { image: tileCache[key], repeat: "repeat", imageWidth: tileRows.length, imageHeight: tileRows.length };
}

function buildOption() {
  const grid: any[] = [], xAxis: any[] = [], yAxis: any[] = [], title: any[] = [], legend: any[] = [], series: any[] = [], graphic: any[] = [];
  boxes.forEach(([l, r, t, b], i) => {
    grid.push({ left: l, top: t, width: r - l, height: b - t, show: true, backgroundColor: i === 6 ? "#fbfbfb" : "#f4f4f4", borderColor: "#8a8a8a", borderWidth: 0.9 });
    const axisCommon = (ticks: number[], decimals: number, name: string, gap: number, ext: number[]) => ({
      type: "value",
      gridIndex: i,
      min: ext[0],
      max: ext[1],
      name,
      nameLocation: "middle",
      nameGap: gap,
      nameMoveOverlap: false,
      nameTextStyle: { fontFamily: FONT, fontSize: 4.8, color: "#444" },
      axisLine: { show: false },
      splitLine: { show: false },
      axisTick: { show: true, length: 1.5, lineStyle: { color: "#777", width: 0.6 }, customValues: ticks },
      axisLabel: {
        customValues: ticks,
        formatter: (v: number) => v.toFixed(decimals).replace("-", "\u2212"),
        fontFamily: FONT,
        fontSize: 4.7,
        margin: 3,
        color: "#444",
        hideOverlap: false,
      },
    });
    xAxis.push(axisCommon(xTicks[i], xDecimals[i], "z1", 9, xExtents[i]));
    yAxis.push(axisCommon(yTicks[i], yDecimals[i], "z2", yNameGaps[i], yExtents[i]));
    title.push({ text: titles[i], left: (l + r) / 2, top: t - 7.8, textAlign: "center", padding: 0, textStyle: { fontFamily: FONT, fontSize: 5.8, fontWeight: "normal", color: "#333" } });

    const lTop = i < 5 ? 77.7 : 349;
    legend.push({
      data: digits,
      orient: "vertical",
      left: legendLefts[i],
      top: lTop,
      icon: "rect",
      itemWidth: 3.7,
      itemHeight: 3.7,
      itemGap: 2.3,
      selectedMode: false,
      padding: [7.6, 1.6, 1.4, 4],
      backgroundColor: "rgba(255,255,255,0.9)",
      borderColor: "#d2d2d2",
      borderWidth: 0.7,
      borderRadius: 1,
      textStyle: { fontFamily: FONT, fontSize: 4.2, color: "#444", lineHeight: 4, padding: [0, 0, 0, 1] },
    });
    graphic.push({ type: "text", z: 100, x: legendLefts[i] + 8.5, y: lTop + 3.2, style: { text: "Digit", fontFamily: FONT, fontSize: 4.6, fill: "#444", align: "center", verticalAlign: "middle" } });

    const smooth = smoothing[i];
    shapeSets[i].forEach(([digit, density, pts]) => {
      const fill = fillFor(digit, density);
      const fringe = fringeWidth[i] ? { stroke: fillFor(digit, Math.min(density, 1)), lineWidth: fringeWidth[i] } : i === 9 ? { stroke: palette[digit], lineWidth: 0.5 } : {};
      series.push({
        type: "custom",
        name: digits[digit],
        xAxisIndex: i,
        yAxisIndex: i,
        clip: true,
        silent: true,
        itemStyle: { color: palette[digit] },
        data: pts,
        encode: { x: 0, y: 1 },
        renderItem: (params: any, api: any) => {
          if (params.dataIndex !== 0) return null;
          return { type: "polygon", shape: { points: pts.map((p) => api.coord(p)), smooth }, style: { fill, ...fringe } };
        },
      });
    });
    if (scatterSets[i].length) {
      series.push({
        type: "scatter",
        xAxisIndex: i,
        yAxisIndex: i,
        silent: true,
        symbolSize: 1.5,
        clip: true,
        z: 3,
        data: scatterSets[i],
        itemStyle: { color: (p: any) => palette[p.data[2]], opacity: 0.85 },
      });
    }
  });

  const ddpm: Pt[] = [];
  ddpmRows.forEach((row, r) =>
    row.split("").forEach((ch, c) => {
      if (ch !== ".") ddpm.push([(c + 0.5) / row.length, 1 - (r + 0.5) / ddpmRows.length, Number(ch)]);
    })
  );
  series.push({
    type: "scatter",
    xAxisIndex: 6,
    yAxisIndex: 6,
    silent: true,
    symbol: "rect",
    symbolSize: [4.2, 4.3],
    clip: true,
    data: ddpm,
    itemStyle: { color: (p: any) => palette[p.data[2]], opacity: 0.72 },
  });
  return { animation: false, backgroundColor: "transparent", tooltip: { show: false }, grid, xAxis, yAxis, title, legend, series, graphic };
}

export default function App() {
  const chartRef = useRef<HTMLDivElement>(null);
  const capRef = useRef<HTMLDivElement>(null);
  useEffect(() => {
    const chart = echarts.init(chartRef.current!, undefined, { renderer: "svg" });
    chart.setOption(buildOption());
    const cap = echarts.init(capRef.current!, undefined, { renderer: "svg" });
    cap.setOption({
      animation: false,
      graphic: captions.map((text, i) => ({
        type: "text",
        x: captionCenters[i],
        y: i < 5 ? 256.5 : 528.5,
        style: { text, fontFamily: "Liberation Serif", fontSize: 24, fill: "#111", align: "center", verticalAlign: "middle" },
      })),
    });
    return () => {
      chart.dispose();
      cap.dispose();
    };
  }, []);
  const layer: React.CSSProperties = { position: "absolute", left: 0, top: 0, width: 1348, height: 544 };
  return (
    <div style={{ ...layer, background: "#fff", overflow: "hidden" }}>
      <div ref={chartRef} style={{ ...layer, filter: "blur(0.6px)" }} />
      <div ref={capRef} style={{ ...layer, pointerEvents: "none" }} />
    </div>
  );
}
